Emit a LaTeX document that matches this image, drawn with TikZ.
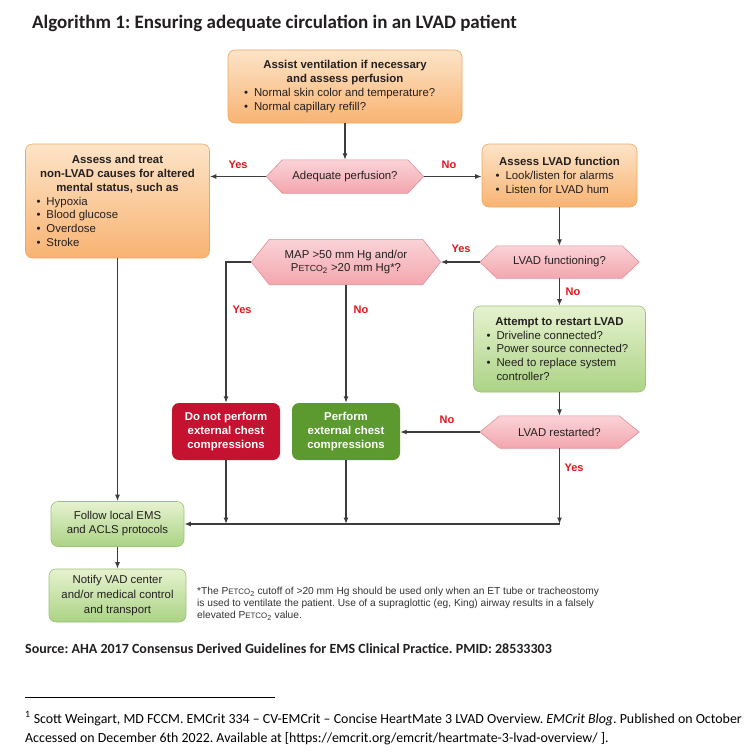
\documentclass[tikz,border=0pt]{standalone}
\usepackage{fontspec}
\setmainfont{Liberation Sans}
\newfontfamily\calfont{Carlito}
\usetikzlibrary{backgrounds,arrows.meta}
\definecolor{oT}{HTML}{FDE4C8}
\definecolor{oB}{HTML}{F8B372}
\definecolor{oD}{HTML}{EFA862}
\definecolor{pT}{HTML}{FAD3D7}
\definecolor{pB}{HTML}{F3A6AE}
\definecolor{pD}{HTML}{E08E98}
\definecolor{gT}{HTML}{E6F2CF}
\definecolor{gB}{HTML}{ABD385}
\definecolor{gD}{HTML}{98C474}
\definecolor{redbox}{HTML}{C41230}
\definecolor{grnbox}{HTML}{5C9A30}
\definecolor{labC}{HTML}{E3141D}
\definecolor{lineC}{HTML}{3C3C3C}
\definecolor{txt}{HTML}{231F20}
\definecolor{fnC}{HTML}{333333}
\frenchspacing
\newcommand\bul[1]{\par\hangindent=10pt\hangafter=1\noindent\makebox[10pt][l]{\textbullet}#1}
\newcommand\hexdraw[2]{%
  \path[hexf] ([xshift=#2]#1.north west) -- ([xshift=-#2]#1.north east) -- (#1.east)
    -- ([xshift=-#2]#1.south east) -- ([xshift=#2]#1.south west) -- (#1.west) -- cycle;}
\newcommand\petco[1]{P{\fontsize{#1}{10}\selectfont ETCO}\textsubscript{2}}
\begin{document}
\begin{tikzpicture}[x=1pt,y=-1pt,
  every node/.style={inner sep=0pt, text=txt},
  ln/.style={draw=lineC, line width=1.2pt, -{Latex[length=6.5pt,width=5pt]}},
  obox/.style={rounded corners=7pt, top color=oT, bottom color=oB, draw=oD, line width=0.6pt},
  gbox/.style={rounded corners=7pt, top color=gT, bottom color=gB, draw=gD, line width=0.6pt},
  hexf/.style={top color=pT, bottom color=pB, draw=pD, line width=0.6pt},
  lab/.style={text=labC, font=\bfseries\fontsize{11}{13}\selectfont},
  tx/.style={font=\fontsize{11.4}{13.8}\selectfont},
  wbox/.style={rounded corners=7pt, text=white, align=center, font=\bfseries\fontsize{11.4}{14}\selectfont}
]
\useasboundingbox (0,0) rectangle (750,755);

% title
\node[anchor=base west, font=\calfont\bfseries\fontsize{19}{22}\selectfont] (title) at (32,28)
  {Algorithm 1: Ensuring adequate circulation in an LVAD patient};

% boxes
\node[obox, tx, minimum width=234pt, minimum height=73pt] (top) at (345,86.5)
  {\begin{minipage}{202pt}{\centering\bfseries Assist ventilation if necessary\\ and assess perfusion\par}\raggedright
   \bul{Normal skin color and temperature?}\bul{Normal capillary refill?}\end{minipage}};

\node[tx, minimum width=157pt, minimum height=33pt] (hexA) at (345,176.5) {Adequate perfusion?};

\node[obox, tx, minimum width=184pt, minimum height=114pt] (left) at (117.5,201)
  {\begin{minipage}{162pt}{\centering\bfseries Assess and treat\\ non-LVAD causes for altered\\ mental status, such as\par}\raggedright
   \bul{Hypoxia}\bul{Blood glucose}\bul{Overdose}\bul{Stroke}\end{minipage}};

\node[obox, tx, minimum width=155pt, minimum height=63pt] (right) at (559.5,175.5)
  {\begin{minipage}{128pt}{\centering\bfseries Assess LVAD function\par}\raggedright
   \bul{Look/listen for alarms}\bul{Listen for LVAD hum}\end{minipage}};

\node[tx, minimum width=159pt, minimum height=32pt] (hexF) at (559.5,262) {LVAD functioning?};

\node[tx, align=center, font=\fontsize{11.4}{13}\selectfont, minimum width=189pt, minimum height=45pt] (hexM) at (346,262)
  {MAP >50 mm Hg and/or\\ \petco{8.8} >20 mm Hg*?};

\node[gbox, tx, minimum width=172pt, minimum height=86pt] (att) at (559.5,349)
  {\begin{minipage}{146pt}{\centering\bfseries Attempt to restart LVAD\par}\raggedright
   \bul{Driveline connected?}\bul{Power source connected?}\bul{Need to replace system controller?}\end{minipage}};

\node[tx, minimum width=159pt, minimum height=32pt] (hexR) at (559.5,432) {LVAD restarted?};

\node[wbox, fill=redbox, minimum width=108pt, minimum height=57pt] (donot) at (226,431.5)
  {Do not perform\\ external chest\\ compressions};
\node[wbox, fill=grnbox, minimum width=108pt, minimum height=57pt] (perf) at (346,431.5)
  {Perform\\ external chest\\ compressions};

\node[gbox, align=center, font=\fontsize{11.4}{14}\selectfont, minimum width=133pt, minimum height=45pt] (follow) at (117.5,524)
  {Follow local EMS\\ and ACLS protocols};
\node[gbox, align=center, font=\fontsize{11.4}{15}\selectfont, minimum width=137pt, minimum height=53pt] (notify) at (117.5,595.5)
  {Notify VAD center\\ and/or medical control\\ and transport};

\node[anchor=north west, align=left, text=fnC, font=\fontsize{10.2}{12}\selectfont] (fn) at (197,587)
  {*The \petco{7.9} cutoff of >20 mm Hg should be used only when an ET tube or tracheostomy\\
   is used to ventilate the patient. Use of a supraglottic (eg, King) airway results in a falsely\\
   elevated \petco{7.9} value.};

% hexagons
\begin{scope}[on background layer]
\hexdraw{hexA}{16pt}
\hexdraw{hexF}{17pt}
\hexdraw{hexM}{18pt}
\hexdraw{hexR}{20pt}
\end{scope}

% connectors
\coordinate (jR) at (559.5,524);
\draw[ln] (top) -- (hexA);
\draw[ln] (hexA.west) -- (hexA.west -| left.east);
\draw[ln] (hexA.east) -- (hexA.east -| right.west);
\draw[ln] (right) -- (hexF);
\draw[ln] (hexF.west) -- (hexM.east);
\draw[ln] (hexF) -- (att);
\draw[ln] (att) -- (hexR);
\draw[ln] (hexR.west) -- (hexR.west -| perf.east);
\draw[ln] (hexM.west) -| (donot.north);
\draw[ln] (hexM) -- (perf);
\draw[ln] (donot.south) -- (donot.south |- jR);
\draw[ln] (perf.south) -- (perf.south |- jR);
\draw[ln] (hexR.south) -- (jR);
\draw[ln] (jR) -- (jR -| follow.east);
\draw[ln] (left) -- (follow);
\draw[ln] (follow) -- (notify);

% labels
\node[lab] (l1) at (238,165) {Yes};
\node[lab] (l2) at (449,165) {No};
\node[lab] (l3) at (461,249) {Yes};
\node[lab] (l4) at (573,292) {No};
\node[lab] (l5) at (242,310) {Yes};
\node[lab] (l6) at (361,310) {No};
\node[lab] (l7) at (447,420) {No};
\node[lab] (l8) at (574,468) {Yes};

% source and footnote
\node[anchor=base west, font=\calfont\bfseries\fontsize{14}{16}\selectfont] (src) at (25,653)
  {Source: AHA 2017 Consensus Derived Guidelines for EMS Clinical Practice. PMID: 28533303};
\coordinate (r1) at (25,697);
\coordinate (r2) at (275,697);
\draw[line width=0.8pt, black] (r1) -- (r2);
\node[anchor=base west, font=\calfont\fontsize{13.9}{16}\selectfont, text=black] (ft1) at (25,723)
  {\textsuperscript{1} Scott Weingart, MD FCCM. EMCrit 334 – CV-EMCrit – Concise HeartMate 3 LVAD Overview. \textit{EMCrit Blog}. Published on October};
\node[anchor=base west, font=\calfont\fontsize{13.9}{16}\selectfont, text=black] (ft2) at (25,742)
  {Accessed on December 6th 2022. Available at [https://emcrit.org/emcrit/heartmate-3-lvad-overview/ ].};
\end{tikzpicture}
\end{document}
